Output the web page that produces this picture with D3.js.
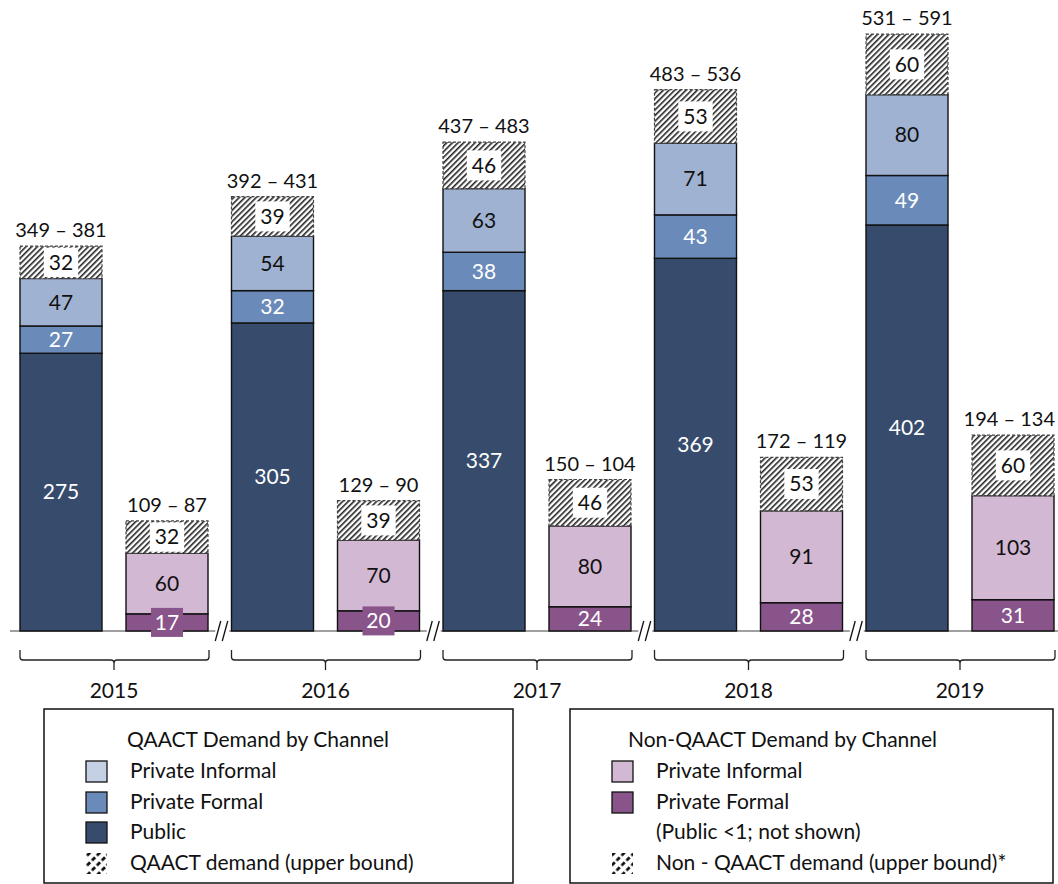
<!DOCTYPE html>
<html>
<head>
<meta charset="utf-8">
<script src="https://cdn.jsdelivr.net/npm/d3@7"></script>
<style>
  html, body { margin: 0; padding: 0; background: #fff; }
  svg { display: block; }
  text { font-family: Lato, "Open Sans", sans-serif; fill: #111; }
</style>
</head>
<body>
<svg id="chart" width="1058" height="884"></svg>
<script>
// Demand by year, split into QAACT and non-QAACT channels
const years = ["2015", "2016", "2017", "2018", "2019"];

const qaactPublic   = [275, 305, 337, 369, 402];
const qaactFormal   = [27, 32, 38, 43, 49];
const qaactInformal = [47, 54, 63, 71, 80];
const qaactUpper    = [32, 39, 46, 53, 60];
const qaactRange    = ["349 – 381", "392 – 431", "437 – 483", "483 – 536", "531 – 591"];

const nonFormal   = [17, 20, 24, 28, 31];
const nonInformal = [60, 70, 80, 91, 103];
const nonUpper    = [32, 39, 46, 53, 60];
const nonRange    = ["109 – 87", "129 – 90", "150 – 104", "172 – 119", "194 – 134"];

const legendLeft  = ["Private Informal", "Private Formal", "Public", "QAACT demand (upper bound)"];
const legendRight = ["Private Informal", "Private Formal", "(Public <1; not shown)", "Non - QAACT demand (upper bound)*"];

const colors = {
  qPublic: "#374c6d",
  qFormal: "#6a8bba",
  qInformal: "#a0b2d1",
  qInformalKey: "#c5d0e4",
  nFormal: "#88548a",
  nInformal: "#d3b8d3"
};

const FS = "21px";
const W = 1058;

const svg = d3.select("#chart");
const baseY = 631;

const x = d3.scaleBand().domain(years).range([8.25, 1065.75]).padding(0);
const inner = d3.scaleBand().domain(["q", "n"]).range([-94, 94]).paddingInner(0.2264);
const y = d3.scaleLinear().domain([0, 600]).range([baseY, baseY - 606]);

// hatch patterns
const defs = svg.append("defs");
const hatch = defs.append("pattern")
  .attr("id", "hatch").attr("patternUnits", "userSpaceOnUse")
  .attr("width", 4).attr("height", 4)
  .attr("patternTransform", "rotate(45)");
hatch.append("rect").attr("width", 4).attr("height", 4).attr("fill", "#fff");
hatch.append("line").attr("x1", 0.8).attr("y1", 0).attr("x2", 0.8).attr("y2", 4)
  .attr("stroke", "#222").attr("stroke-width", 1.6);

const hatchKey = defs.append("pattern")
  .attr("id", "hatchKey").attr("patternUnits", "userSpaceOnUse")
  .attr("width", 7).attr("height", 7)
  .attr("patternTransform", "rotate(45)");
hatchKey.append("rect").attr("width", 7).attr("height", 7).attr("fill", "#fff");
hatchKey.append("line").attr("x1", 1.5).attr("y1", 0).attr("x2", 1.5).attr("y2", 7)
  .attr("stroke", "#000").attr("stroke-width", 2.6).attr("stroke-dasharray", "4.5,2.5");

// build stacked segments
const segs = [];
years.forEach((yr, i) => {
  const qStack = [
    { v: qaactPublic[i], fill: colors.qPublic, txt: "#fff" },
    { v: qaactFormal[i], fill: colors.qFormal, txt: "#fff" },
    { v: qaactInformal[i], fill: colors.qInformal, txt: "#111" },
    { v: qaactUpper[i], fill: "url(#hatch)", txt: "#111", hatch: true }
  ];
  const nStack = [
    { v: nonFormal[i], fill: colors.nFormal, txt: "#fff" },
    { v: nonInformal[i], fill: colors.nInformal, txt: "#111" },
    { v: nonUpper[i], fill: "url(#hatch)", txt: "#111", hatch: true }
  ];
  [["q", qStack, qaactRange[i]], ["n", nStack, nonRange[i]]].forEach(([k, stack, rangeLabel]) => {
    let acc = 0;
    stack.forEach(s => {
      segs.push({ year: yr, key: k, y0: acc, y1: acc + s.v, ...s });
      acc += s.v;
    });
    segs.push({ year: yr, key: k, range: rangeLabel, top: acc });
  });
});

const barX = d => x(d.year) + x.bandwidth() / 2 + inner(d.key);
const bw = inner.bandwidth();

// axis baseline
svg.append("line")
  .attr("x1", 10).attr("x2", W).attr("y1", baseY).attr("y2", baseY)
  .attr("stroke", "#7f7f7f").attr("stroke-width", 1.5);

const blocks = segs.filter(d => d.v !== undefined);

// bar segments
svg.append("g").selectAll("rect").data(blocks).join("rect")
  .attr("x", barX)
  .attr("y", d => y(d.y1))
  .attr("width", bw)
  .attr("height", d => y(d.y0) - y(d.y1))
  .attr("fill", d => d.fill)
  .attr("stroke", d => d.hatch ? "#444" : "#111")
  .attr("stroke-width", d => d.hatch ? 1.2 : 1.4)
  .attr("stroke-dasharray", d => d.hatch ? "3,2" : null);

// value labels
const lab = svg.append("g").selectAll("g").data(blocks).join("g")
  .attr("transform", d => `translate(${barX(d) + bw / 2},${(y(d.y0) + y(d.y1)) / 2})`);

lab.each(function (d) {
  const g = d3.select(this);
  const h = y(d.y0) - y(d.y1);
  const t = g.append("text")
    .attr("text-anchor", "middle").attr("dy", "0.35em")
    .style("font-size", FS).style("fill", d.txt)
    .text(d.v);
  const w = t.node().getComputedTextLength();
  if (d.hatch) {
    g.insert("rect", "text")
      .attr("x", -w / 2 - 5).attr("y", -Math.min(h - 3, 30) / 2)
      .attr("width", w + 10).attr("height", Math.min(h - 3, 30))
      .attr("fill", "#fff");
  } else if (h < 24) {
    g.insert("rect", "text")
      .attr("x", -16).attr("y", -14.5)
      .attr("width", 32).attr("height", 29)
      .attr("fill", d.fill);
  }
});

// range labels above each bar, kept inside the right edge
svg.append("g").selectAll("text").data(segs.filter(d => d.range)).join("text")
  .attr("y", d => y(d.top) - 9)
  .attr("text-anchor", "middle")
  .style("font-size", "20px")
  .text(d => d.range)
  .each(function (d) {
    const w = this.getComputedTextLength();
    const cx = Math.min(barX(d) + bw / 2, W - 3 - w / 2);
    d3.select(this).attr("x", cx);
  });

// axis break marks between year groups
const breaks = years.slice(0, -1).map((yr, i) => (x(yr) + x.bandwidth() + x(years[i + 1])) / 2 - 1.5);
const brk = svg.append("g").selectAll("g").data(breaks).join("g")
  .attr("transform", d => `translate(${d},${baseY})`);
brk.append("rect").attr("x", -3).attr("y", -4).attr("width", 14).attr("height", 8).attr("fill", "#fff");
[-3, 4].forEach(off => {
  brk.append("line")
    .attr("x1", off).attr("y1", 10).attr("x2", off + 5.5).attr("y2", -10)
    .attr("stroke", "#111").attr("stroke-width", 1.3);
});

// year braces
const brace = (cx) => {
  const l = cx - 94, r = cx + 95, t = 650, b = 660, rad = 3;
  return `M${l},${t} L${l},${b - rad} Q${l},${b} ${l + rad},${b} L${cx - 3},${b} Q${cx},${b} ${cx},${b + 3} L${cx},${b + 10}
          M${cx},${b + 3} Q${cx},${b} ${cx + 3},${b} L${r - rad},${b} Q${r},${b} ${r},${b - rad} L${r},${t}`;
};
svg.append("g").selectAll("path").data(years).join("path")
  .attr("d", d => brace(x(d) + x.bandwidth() / 2))
  .attr("fill", "none").attr("stroke", "#222").attr("stroke-width", 1.3);

svg.append("g").selectAll("text").data(years).join("text")
  .attr("x", d => x(d) + x.bandwidth() / 2)
  .attr("y", 698)
  .attr("text-anchor", "middle")
  .style("font-size", FS)
  .text(d => d);

// legends
function legend(x0, x1, title, titleX, swX, txtX, labels, fills) {
  const g = svg.append("g");
  g.append("rect").attr("x", x0).attr("y", 709).attr("width", x1 - x0).attr("height", 174)
    .attr("fill", "#fff").attr("stroke", "#111").attr("stroke-width", 1.5);
  g.append("text").attr("x", titleX).attr("y", 740).attr("dy", "0.35em")
    .style("font-size", FS).text(title);
  const rows = [771, 802, 832, 863];
  labels.forEach((lb, i) => {
    if (fills[i]) {
      g.append("rect").attr("x", swX).attr("y", rows[i] - 10).attr("width", 21).attr("height", 21)
        .attr("fill", fills[i])
        .attr("stroke", fills[i] === "url(#hatchKey)" ? "none" : "#111")
        .attr("stroke-width", 1.3);
    }
    g.append("text").attr("x", txtX).attr("y", rows[i]).attr("dy", "0.35em")
      .style("font-size", FS).text(lb);
  });
}

legend(44, 513, "QAACT Demand by Channel", 127, 86, 130, legendLeft,
  [colors.qInformalKey, colors.qFormal, colors.qPublic, "url(#hatchKey)"]);
legend(570, 1053, "Non-QAACT Demand by Channel", 628, 612, 656, legendRight,
  [colors.nInformal, colors.nFormal, null, "url(#hatchKey)"]);
</script>
</body>
</html>
